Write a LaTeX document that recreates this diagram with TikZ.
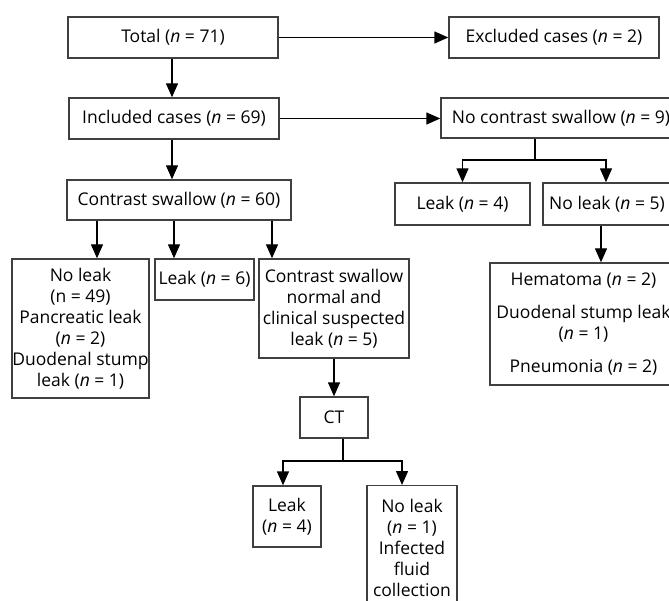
\documentclass[tikz,border=0pt]{standalone}
\usepackage{fontspec}
\setmainfont{Open Sans}
\usetikzlibrary{arrows.meta}

\begin{document}
\begin{tikzpicture}[
  x=1pt,y=-1pt,
  every node/.style={align=center,font=\fontsize{17.5}{21}\selectfont},
  box/.style={draw=black!75,line width=1.4pt,inner sep=0pt},
  to/.style={-{Triangle[length=14pt,width=12pt]},line width=1.4pt},
  link/.style={line width=1.4pt}]

  \useasboundingbox (0,0) rectangle (669,601);
  \clip (0,0) rectangle (669,601);

  % Position the nodes at the places of the flow chart
  \node[box,minimum width=210pt,minimum height=41pt] (total) at (173,37.5) {Total (\textit{n} = 71)};
  \node[box,minimum width=210pt,minimum height=41pt] (excluded) at (554,37.5) {Excluded cases (\textit{n} = 2)};
  \node[box,minimum width=210pt,minimum height=41pt] (included) at (174,118.5) {Included cases (\textit{n} = 69)};
  \node[box,minimum width=240pt,minimum height=40pt] (nocontrast) at (561,118) {\hspace*{0pt}No contrast swallow (\textit{n} = 9)};
  \node[box,minimum width=224pt,minimum height=40pt] (contrast) at (179,200) {Contrast swallow (\textit{n} = 60)};

  \node[box,minimum width=135pt,minimum height=42pt] (leakright) at (462.5,204) {Leak (\textit{n} = 4)};
  \node[box,minimum width=136pt,minimum height=42pt] (noleakright) at (611,204) {\hspace*{-8pt}No leak (\textit{n} = 5)};
  \node[box,minimum width=187pt,minimum height=122pt] (hematoma) at (583.5,324)
    {Hematoma (\textit{n} = 2)\\[12pt]Duodenal stump leak\\(\textit{n} = 1)\\[12pt]Pneumonia (\textit{n} = 2)};

  \node[box,minimum width=137pt,minimum height=139pt] (noleakleft) at (80.5,328.5)
    {No leak\\(n = 49)\\Pancreatic leak\\(\textit{n} = 2)\\Duodenal stump\\leak (\textit{n} = 1)};
  \node[box,minimum width=99pt,minimum height=41pt] (leakleft) at (204.5,279.5) {Leak (\textit{n} = 6)};
  \node[box,minimum width=150pt,minimum height=99pt] (suspected) at (334,308.5)
    {Contrast swallow\\normal and\\clinical suspected\\leak (\textit{n} = 5)};

  \node[box,minimum width=68pt,minimum height=41pt] (ct) at (334,417.5) {CT};
  \node[box,minimum width=68pt,minimum height=61pt] (leakct) at (287,516.5) {Leak\\(\textit{n} = 4)};
  \node[box,minimum width=90pt,minimum height=125pt,anchor=north] (noleakct) at (412,485)
    {\fontsize{17.5}{24}\selectfont No leak\\(\textit{n} = 1)\\Infected\\fluid\\collection};

  \coordinate (ncfork) at (535,160);
  \coordinate (ctfork) at (343,461);

  % Draw the arrows between the nodes
  \draw[to] (total.east) -- (excluded.west);
  \draw[to] ([xshift=-1pt]total.south) -- ([xshift=-1pt]total.south |- included.north);
  \draw[to] (included.east) -- (included.east -| nocontrast.west);
  \draw[to] ([xshift=-2pt]included.south) -- ([xshift=-2pt]included.south |- contrast.north);

  \draw[to] ([xshift=16.5pt]noleakleft.north |- contrast.south) -- ([xshift=16.5pt]noleakleft.north);
  \draw[to] ([xshift=-30.5pt]leakleft.north |- contrast.south) -- ([xshift=-30.5pt]leakleft.north);
  \draw[to] ([xshift=-62pt]suspected.north |- contrast.south) -- ([xshift=-62pt]suspected.north);
  \draw[to] (suspected.south) -- (ct.north);

  \draw[link] (ct.south -| ctfork) -- (ctfork);
  \draw[to] (ctfork) -| ([xshift=-4pt]leakct.north);
  \draw[to] (ctfork) -| ([xshift=-10pt]noleakct.north);

  \draw[link] (nocontrast.south -| ncfork) -- (ncfork);
  \draw[to] (ncfork) -| (leakright.north);
  \draw[to] (ncfork) -| ([xshift=-5pt]noleakright.north);
  \draw[to] ([xshift=-10pt]noleakright.south) -- ([xshift=-10pt]noleakright.south |- hematoma.north);
\end{tikzpicture}
\end{document}
